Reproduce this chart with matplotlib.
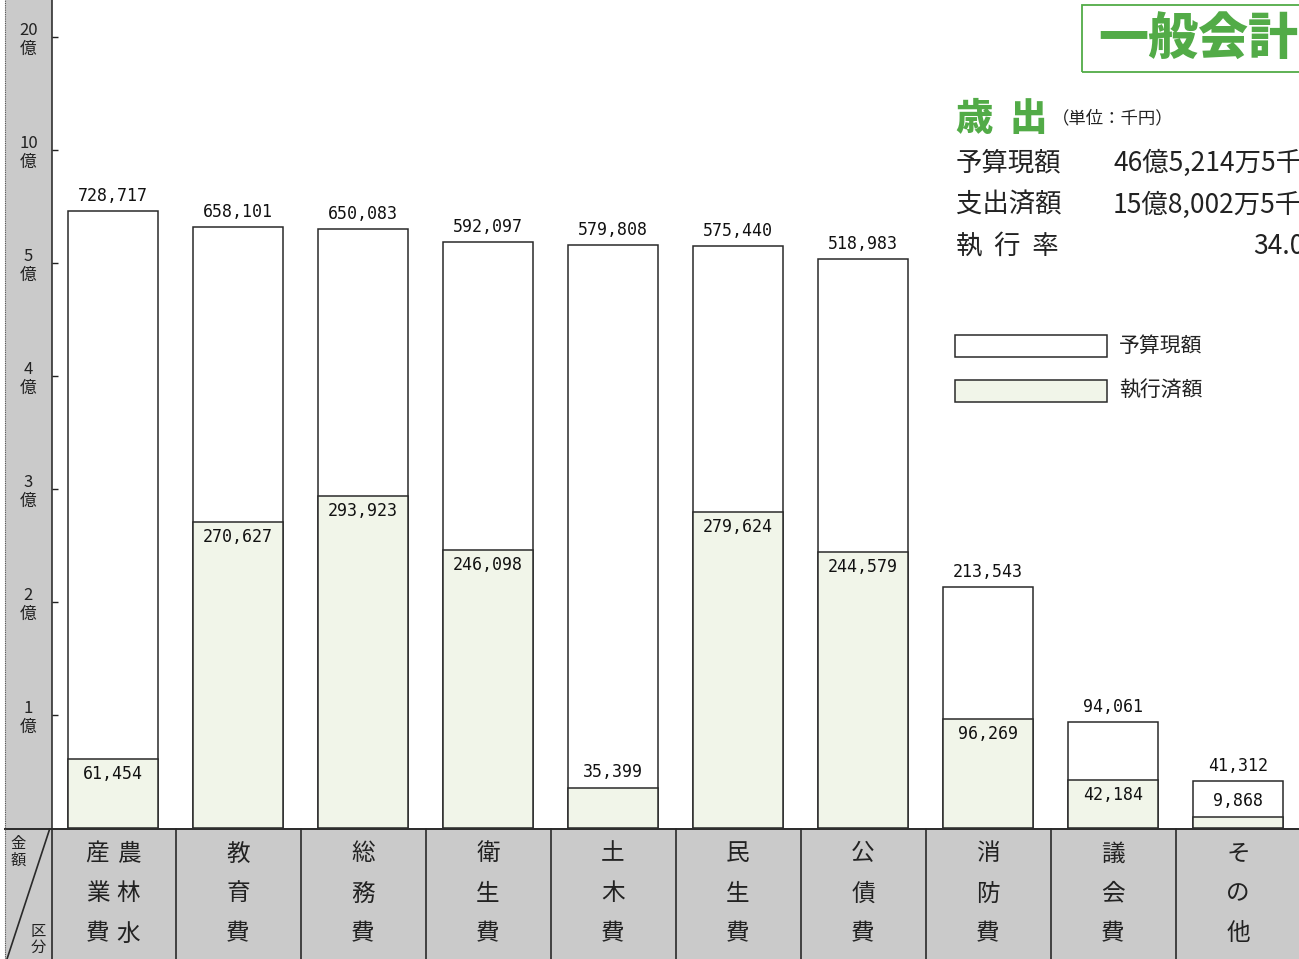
import numpy as np
import matplotlib.pyplot as plt
from matplotlib.patches import Rectangle

plt.rcParams['font.family'] = ['Noto Sans CJK JP', 'DejaVu Sans']

# 区分（縦書き、右の列から読む）
categories = ["農林水産業費", "教育費", "総務費", "衛生費", "土木費",
              "民生費", "公債費", "消防費", "議会費", "その他"]
# 予算現額（千円）
budget = [728717, 658101, 650083, 592097, 579808, 575440, 518983, 213543, 94061, 41312]
# 執行済額（千円）
executed = [61454, 270627, 293923, 246098, 35399, 279624, 244579, 96269, 42184, 9868]

# 金額の目盛り（1億 = 100,000千円）
tick_values = [100000, 200000, 300000, 400000, 500000, 1000000, 2000000]
tick_labels = ["1\n億", "2\n億", "3\n億", "4\n億", "5\n億", "10\n億", "20\n億"]

# 軸の区切り（5億までは等間隔、その上は圧縮）
breaks = [0, 100000, 200000, 300000, 400000, 500000, 1000000, 2000000, 3000000]
steps = np.arange(len(breaks), dtype=float)

def fwd(v):
    return np.interp(v, breaks, steps)

def inv(p):
    return np.interp(p, steps, breaks)

summary = [("予算現額", "46億5,214万5千円"),
           ("支出済額", "15億8,002万5千円"),
           ("執  行  率", "34.0%")]

W, H = 1299, 959
GREEN = '#52ab47'
FILL = '#f1f5e9'
GRAY = '#cacaca'
EDGE = '#2a2a2a'

fig = plt.figure(figsize=(W / 100, H / 100), dpi=100)

def fx(x):
    return x / W

def fy(y):
    return 1 - y / H

# 左の灰色の帯（軸より下に描く）
fig.patches.append(Rectangle((fx(5), fy(828)), fx(47), 828 / H, transform=fig.transFigure,
                             facecolor=GRAY, edgecolor='none', zorder=-2))
fig.add_artist(plt.Line2D([fx(5), fx(5)], [fy(828), 1], transform=fig.transFigure,
                          color='#555555', linewidth=0.8, linestyle=(0, (1, 1)), zorder=-1))

# グラフ本体
ax = fig.add_axes([fx(52), 131 / H, 1247 / W, 828 / H])
ax.patch.set_alpha(0)
ax.set_yscale('function', functions=(fwd, inv))
ax.set_ylim(0, 2327000)
ax.set_xlim(-0.488, 9.488)

x = np.arange(len(categories))
ax.bar(x, budget, width=0.72, color='white', edgecolor=EDGE, linewidth=1.1, zorder=2)
ax.bar(x, executed, width=0.72, color=FILL, edgecolor=EDGE, linewidth=1.1, zorder=3)

for i in x:
    ax.annotate(f"{budget[i]:,}", (i, budget[i]), xytext=(0, 15), textcoords='offset pixels',
                ha='center', va='center', fontsize=12, family='DejaVu Sans Mono', color='#111111')
    off = -15 if executed[i] >= 40000 else 16
    ax.annotate(f"{executed[i]:,}", (i, executed[i]), xytext=(0, off), textcoords='offset pixels',
                ha='center', va='center', fontsize=12, family='DejaVu Sans Mono', color='#111111',
                zorder=5)

ax.set_yticks(tick_values)
ax.set_yticklabels(tick_labels, fontsize=12, linespacing=1.15, ha='center', color='#222222')
ax.tick_params(axis='y', direction='in', length=4, width=1, pad=17, colors='#222222')
ax.tick_params(axis='x', length=0, labelbottom=False)
ax.yaxis.set_minor_locator(plt.NullLocator())
for s in ['top', 'right', 'bottom']:
    ax.spines[s].set_visible(False)
ax.spines['left'].set_color('#222222')
ax.spines['left'].set_linewidth(1.1)

# 区分の表
tax = fig.add_axes([0, 0, 1, 131 / H])
tax.set_xlim(-113 / 125, (W - 113) / 125)
tax.set_ylim(0, 131)
tax.axis('off')
tax.add_patch(Rectangle((-0.864, 0), 11, 131, facecolor=GRAY, edgecolor='none'))
tax.plot([-0.864, 9.6], [130.5, 130.5], color=EDGE, linewidth=1.4)
tax.plot([-0.864, -0.864], [0, 131], color='#555555', linewidth=0.8, linestyle=(0, (1, 1)))
for b in [-0.488] + [k + 0.5 for k in range(len(categories) - 1)]:
    tax.plot([b, b], [0, 131], color=EDGE, linewidth=1.2)
tax.plot([-0.504, -0.848], [131, 0], color=EDGE, linewidth=1.2)
tax.text(-0.76, 124, "金\n額", ha='center', va='top', fontsize=11, linespacing=0.95, color='#222222')
tax.text(-0.60, 3, "区\n分", ha='center', va='bottom', fontsize=11, linespacing=0.95, color='#222222')

rows = [105, 65, 25]
for i, name in enumerate(categories):
    cols = [name[k:k + 3] for k in range(0, len(name), 3)]
    n = len(cols)
    for c, col in enumerate(cols):
        cx = i + (n - 1) / 2 * 0.248 - c * 0.248
        for r, ch in enumerate(col):
            tax.text(cx, rows[r], ch, ha='center', va='center', fontsize=17, color='#222222')

# 右上の見出し
fig.patches.append(Rectangle((fx(1082), fy(72)), fx(260), 67 / H, transform=fig.transFigure,
                             facecolor='none', edgecolor=GREEN, linewidth=1.3))
fig.text(fx(1098), fy(40), "一般会計", fontsize=36, fontweight='heavy', color=GREEN,
         ha='left', va='center')
fig.text(fx(955), fy(119), "歳", fontsize=27, fontweight='heavy', color=GREEN, ha='left', va='center')
fig.text(fx(1010), fy(119), "出", fontsize=27, fontweight='heavy', color=GREEN, ha='left', va='center')
fig.text(fx(1052), fy(118), "（単位：千円）", fontsize=12.5, color='#222222', ha='left', va='center')

for k, (lab, val) in enumerate(summary):
    yy = fy(163 + 42 * k)
    fig.text(fx(956), yy, lab, fontsize=19, color='#222222', ha='left', va='center')
    vx = 1113 if k < 2 else 1253
    fig.text(fx(vx), yy, val, fontsize=19, color='#222222', ha='left', va='center')

# 凡例
legend_items = [("予算現額", 'white', 346), ("執行済額", FILL, 391)]
for lab, fc, yc in legend_items:
    fig.patches.append(Rectangle((fx(955), fy(yc + 11)), fx(152), 22 / H, transform=fig.transFigure,
                                 facecolor=fc, edgecolor=EDGE, linewidth=1.1))
    fig.text(fx(1119), fy(yc), lab, fontsize=15, color='#222222', ha='left', va='center')

fig.savefig("out.png", dpi=100, facecolor='white')
